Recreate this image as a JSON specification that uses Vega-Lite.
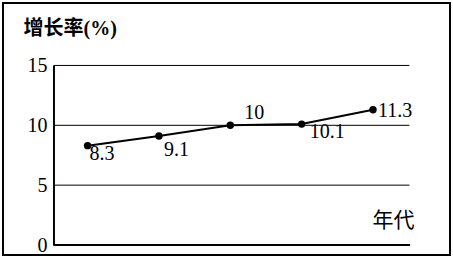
{
  "$schema": "https://vega.github.io/schema/vega-lite/v6.json",
  "width": 447,
  "height": 252,
  "autosize": {"type": "none"},
  "padding": {"left": 3, "top": 3, "right": 3, "bottom": 5},
  "background": "white",
  "config": {
    "view": {"stroke": "black", "strokeWidth": 2},
    "font": "Liberation Serif",
    "axisX": {"domain": false, "ticks": false, "labels": false, "grid": false, "titleX": 369, "titleY": -29, "titleAlign": "left", "titleAnchor": null, "titleBaseline": "alphabetic", "titleFont": "Noto Sans CJK SC", "titleFontSize": 21, "titleFontWeight": "normal", "titleColor": "black", "titlePadding": 0},
    "axisY": {"offset": -51, "domain": false, "ticks": false, "tickSize": 0, "grid": false, "labelPadding": 7, "labelFont": "Liberation Serif", "labelFontSize": 20, "labelColor": "black", "labelBaseline": "middle", "titleAngle": 0, "titleX": -31, "titleY": 31, "titleAlign": "left", "titleBaseline": "alphabetic", "titleFont": "Liberation Serif, Noto Sans CJK SC", "titleFontSize": 20, "titleFontWeight": "bold", "titleColor": "black"}
  },
  "datasets": {
    "series": [
      {"i": 1, "v": 8.3, "t": "8.3"},
      {"i": 2, "v": 9.1, "t": "9.1"},
      {"i": 3, "v": 10, "t": "10"},
      {"i": 4, "v": 10.1, "t": "10.1"},
      {"i": 5, "v": 11.3, "t": "11.3"}
    ],
    "grid": [{"g": 5}, {"g": 10}, {"g": 15}],
    "one": [{"k": 1}]
  },
  "layer": [
    {
      "data": {"name": "grid"},
      "mark": {"type": "rule", "stroke": "black", "strokeWidth": 1},
      "encoding": {
        "x": {"datum": 0.529, "type": "quantitative", "title": "年代", "scale": {"domain": [-0.1853, 6.0788], "nice": false, "zero": false}},
        "x2": {"datum": 5.51},
        "y": {"field": "g", "type": "quantitative", "title": "增长率(%)", "scale": {"domain": [-0.835, 20.217], "nice": false, "zero": false}, "axis": {"values": [0, 5, 10, 15]}}
      }
    },
    {
      "data": {"name": "one"},
      "mark": {"type": "rule", "stroke": "black", "strokeWidth": 2},
      "encoding": {
        "x": {"datum": 0.529, "type": "quantitative", "title": "年代", "scale": {"domain": [-0.1853, 6.0788], "nice": false, "zero": false}},
        "y": {"datum": 0, "type": "quantitative", "title": "增长率(%)", "scale": {"domain": [-0.835, 20.217], "nice": false, "zero": false}, "axis": {"values": [0, 5, 10, 15]}},
        "y2": {"datum": 15}
      }
    },
    {
      "data": {"name": "one"},
      "mark": {"type": "rule", "stroke": "black", "strokeWidth": 2},
      "encoding": {
        "x": {"datum": 0.52, "type": "quantitative", "title": "年代", "scale": {"domain": [-0.1853, 6.0788], "nice": false, "zero": false}},
        "x2": {"datum": 5.52},
        "y": {"datum": 0, "type": "quantitative", "title": "增长率(%)", "scale": {"domain": [-0.835, 20.217], "nice": false, "zero": false}, "axis": {"values": [0, 5, 10, 15]}}
      }
    },
    {
      "data": {"name": "series"},
      "mark": {"type": "line", "stroke": "black", "strokeWidth": 2},
      "encoding": {
        "x": {"field": "i", "type": "quantitative", "title": "年代", "scale": {"domain": [-0.1853, 6.0788], "nice": false, "zero": false}},
        "y": {"field": "v", "type": "quantitative", "title": "增长率(%)", "scale": {"domain": [-0.835, 20.217], "nice": false, "zero": false}, "axis": {"values": [0, 5, 10, 15]}}
      }
    },
    {
      "data": {"name": "series"},
      "mark": {"type": "point", "filled": true, "shape": "circle", "size": 55, "color": "black", "opacity": 1},
      "encoding": {
        "x": {"field": "i", "type": "quantitative", "title": "年代", "scale": {"domain": [-0.1853, 6.0788], "nice": false, "zero": false}},
        "y": {"field": "v", "type": "quantitative", "title": "增长率(%)", "scale": {"domain": [-0.835, 20.217], "nice": false, "zero": false}, "axis": {"values": [0, 5, 10, 15]}}
      }
    },
    {
      "data": {"name": "series"},
      "transform": [{"filter": "datum.i == 1"}],
      "mark": {"type": "text", "align": "left", "baseline": "alphabetic", "dx": 2, "dy": 14, "font": "Liberation Serif", "fontSize": 20, "color": "black"},
      "encoding": {
        "x": {"field": "i", "type": "quantitative", "title": "年代", "scale": {"domain": [-0.1853, 6.0788], "nice": false, "zero": false}},
        "y": {"field": "v", "type": "quantitative", "title": "增长率(%)", "scale": {"domain": [-0.835, 20.217], "nice": false, "zero": false}, "axis": {"values": [0, 5, 10, 15]}},
        "text": {"field": "t", "type": "nominal"}
      }
    },
    {
      "data": {"name": "series"},
      "transform": [{"filter": "datum.i == 2"}],
      "mark": {"type": "text", "align": "left", "baseline": "alphabetic", "dx": 5, "dy": 20, "font": "Liberation Serif", "fontSize": 20, "color": "black"},
      "encoding": {
        "x": {"field": "i", "type": "quantitative", "title": "年代", "scale": {"domain": [-0.1853, 6.0788], "nice": false, "zero": false}},
        "y": {"field": "v", "type": "quantitative", "title": "增长率(%)", "scale": {"domain": [-0.835, 20.217], "nice": false, "zero": false}, "axis": {"values": [0, 5, 10, 15]}},
        "text": {"field": "t", "type": "nominal"}
      }
    },
    {
      "data": {"name": "series"},
      "transform": [{"filter": "datum.i == 3"}],
      "mark": {"type": "text", "align": "left", "baseline": "alphabetic", "dx": 14, "dy": -6, "font": "Liberation Serif", "fontSize": 20, "color": "black"},
      "encoding": {
        "x": {"field": "i", "type": "quantitative", "title": "年代", "scale": {"domain": [-0.1853, 6.0788], "nice": false, "zero": false}},
        "y": {"field": "v", "type": "quantitative", "title": "增长率(%)", "scale": {"domain": [-0.835, 20.217], "nice": false, "zero": false}, "axis": {"values": [0, 5, 10, 15]}},
        "text": {"field": "t", "type": "nominal"}
      }
    },
    {
      "data": {"name": "series"},
      "transform": [{"filter": "datum.i == 4"}],
      "mark": {"type": "text", "align": "left", "baseline": "alphabetic", "dx": 8, "dy": 14, "font": "Liberation Serif", "fontSize": 20, "color": "black"},
      "encoding": {
        "x": {"field": "i", "type": "quantitative", "title": "年代", "scale": {"domain": [-0.1853, 6.0788], "nice": false, "zero": false}},
        "y": {"field": "v", "type": "quantitative", "title": "增长率(%)", "scale": {"domain": [-0.835, 20.217], "nice": false, "zero": false}, "axis": {"values": [0, 5, 10, 15]}},
        "text": {"field": "t", "type": "nominal"}
      }
    },
    {
      "data": {"name": "series"},
      "transform": [{"filter": "datum.i == 5"}],
      "mark": {"type": "text", "align": "left", "baseline": "alphabetic", "dx": 5, "dy": 7, "font": "Liberation Serif", "fontSize": 20, "color": "black"},
      "encoding": {
        "x": {"field": "i", "type": "quantitative", "title": "年代", "scale": {"domain": [-0.1853, 6.0788], "nice": false, "zero": false}},
        "y": {"field": "v", "type": "quantitative", "title": "增长率(%)", "scale": {"domain": [-0.835, 20.217], "nice": false, "zero": false}, "axis": {"values": [0, 5, 10, 15]}},
        "text": {"field": "t", "type": "nominal"}
      }
    }
  ]
}
